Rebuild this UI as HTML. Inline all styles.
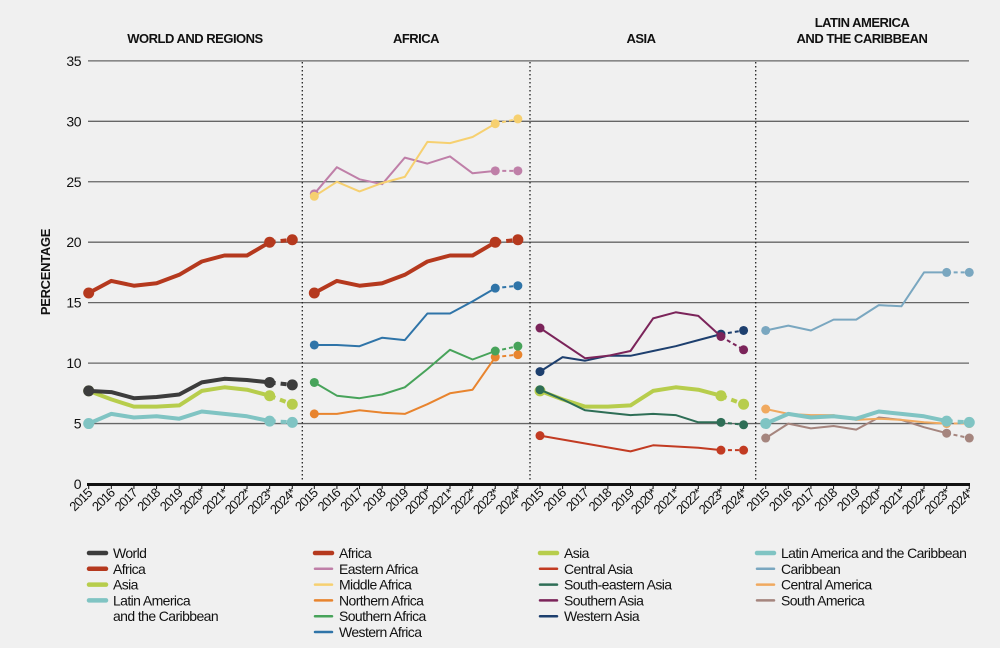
<!DOCTYPE html>
<html><head><meta charset="utf-8"><style>
html,body{margin:0;padding:0;background:#f0f0f0;}
svg{display:block;font-family:"Liberation Sans",sans-serif;}
</style></head><body>
<svg id="chart" width="1000" height="648" viewBox="0 0 1000 648">
<rect width="1000" height="648" fill="#f0f0f0"/>
<g id="titles" font-weight="bold" font-size="13" fill="#111" text-anchor="middle" letter-spacing="-0.5">
<text x="195" y="43">WORLD AND REGIONS</text>
<text x="416" y="43">AFRICA</text>
<text x="641" y="43">ASIA</text>
<text x="862" y="27">LATIN AMERICA</text>
<text x="862" y="43">AND THE CARIBBEAN</text>
</g>
<text transform="translate(50,272) rotate(-90)" text-anchor="middle" font-weight="bold" font-size="13" letter-spacing="-0.3" fill="#111">PERCENTAGE</text>
<g id="grid"></g>
<g id="series"></g>
<g id="legend"></g>
</svg>
<script>
const years = ["2015","2016","2017","2018","2019","2020*","2021*","2022*","2023*","2024*"];
const yTicks = [0,5,10,15,20,25,30,35];
const worldVals = [7.7,7.6,7.1,7.2,7.4,8.4,8.7,8.6,8.4,8.2];
const africaVals = [15.8,16.8,16.4,16.6,17.3,18.4,18.9,18.9,20.0,20.2];
const asiaVals = [7.7,7.0,6.4,6.4,6.5,7.7,8.0,7.8,7.3,6.6];
const lacVals = [5.0,5.8,5.5,5.6,5.4,6.0,5.8,5.6,5.2,5.1];
const easternAfricaVals = [24.0,26.2,25.2,24.8,27.0,26.5,27.1,25.7,25.9,25.9];
const middleAfricaVals = [23.8,25.0,24.2,24.9,25.4,28.3,28.2,28.7,29.8,30.2];
const northernAfricaVals = [5.8,5.8,6.1,5.9,5.8,6.6,7.5,7.8,10.5,10.7];
const southernAfricaVals = [8.4,7.3,7.1,7.4,8.0,9.5,11.1,10.3,11.0,11.4];
const westernAfricaVals = [11.5,11.5,11.4,12.1,11.9,14.1,14.1,15.1,16.2,16.4];
const centralAsiaVals = [4.0,null,null,null,2.7,3.2,3.1,3.0,2.8,2.8];
const seAsiaVals = [7.8,7.0,6.1,5.9,5.7,5.8,5.7,5.1,5.1,4.9];
const southernAsiaVals = [12.9,null,10.4,10.6,11.0,13.7,14.2,13.9,12.2,11.1];
const westernAsiaVals = [9.3,10.5,10.2,10.6,10.6,11.0,11.4,11.9,12.4,12.7];
const caribbeanVals = [12.7,13.1,12.7,13.6,13.6,14.8,14.7,17.5,17.5,17.5];
const centralAmericaVals = [6.2,5.8,5.7,5.7,5.3,5.4,5.3,5.1,5.0,5.0];
const southAmericaVals = [3.8,5.0,4.6,4.8,4.5,5.5,5.3,4.7,4.2,3.8];

const NS = "http://www.w3.org/2000/svg";
const panelStart = [88.7, 314.3, 540, 765.7];
const step = 22.62;
function xPos(p, i){ return panelStart[p] + i*step; }
function yPos(v){ return 484 - v*12.09; }
function mk(tag, attrs, parent){
  const e = document.createElementNS(NS, tag);
  for (const k in attrs) e.setAttribute(k, attrs[k]);
  parent.appendChild(e); return e;
}
const grid = document.getElementById('grid');
yTicks.forEach(t => {
  if (t > 0) {
    const l = mk('line', {x1:88, x2:969, y1:yPos(t), y2:yPos(t), stroke:'#666', 'stroke-width':1.3}, grid);
    
    
  }
  const tx = mk('text', {x:81, y:yPos(t)+5, 'text-anchor':'end', 'font-size':14, fill:'#111', 'letter-spacing':'-0.5'}, grid);
  tx.textContent = t;
  
  
});
[302.3, 530, 755.7].forEach((x, k) => {
  const d = mk('line', {x1:x, x2:x, y1:62, y2:482, stroke:'#222', 'stroke-width':1.3, 'stroke-dasharray':'1.5,2.5'}, grid);
  
  
});
const ax = mk('line', {x1:87, x2:970, y1:484.5, y2:484.5, stroke:'#111', 'stroke-width':3}, grid);


for (let p = 0; p < 4; p++) {
  years.forEach((yr, i) => {
    const x = xPos(p, i);
    mk('line', {x1:x, x2:x, y1:485, y2:489, stroke:'#111', 'stroke-width':1}, grid);
    const t = mk('text', {transform:`translate(${x+4},${494}) rotate(-45)`, 'text-anchor':'end', 'font-size':13, fill:'#111', 'letter-spacing':'-0.9'}, grid);
    t.textContent = yr;
    
    
  });
}

const seriesG = document.getElementById('series');
function drawSeries(p, vals, color, thick, name){
  const g = mk('g', {}, seriesG);
  
  
  const w = thick ? 4 : 2;
  const pts = [];
  for (let i = 0; i <= 8; i++) if (vals[i] !== null) pts.push(xPos(p,i).toFixed(1) + ',' + yPos(vals[i]).toFixed(1));
  mk('polyline', {points:pts.join(' '), fill:'none', stroke:color, 'stroke-width':w, 'stroke-linejoin':'round'}, g);
  mk('line', {x1:xPos(p,8), y1:yPos(vals[8]), x2:xPos(p,9), y2:yPos(vals[9]), stroke:color, 'stroke-width':w, 'stroke-dasharray': thick ? '6,5' : '4,3'}, g);
  const r = thick ? 5.5 : 4.5;
  [0,8,9].forEach(i => {
    const c = mk('circle', {cx:xPos(p,i), cy:yPos(vals[i]), r:r, fill:color}, g);
    
    
  });
}
const C = {world:'#3c3c3c', africa:'#b5391e', asia:'#b7cd4c', lac:'#80c4c3', eaf:'#bf7fa8', maf:'#f6d070', naf:'#e8842e', saf:'#47a35a', waf:'#2f74a8', cas:'#c23b22', sea:'#2e6e56', sas:'#7b245a', was:'#1d3f6e', car:'#7aa7c0', cam:'#f0a95f', sam:'#a5857e'};
drawSeries(0, lacVals, C.lac, true, 'world-lac-line');
drawSeries(0, asiaVals, C.asia, true, 'world-asia-line');
drawSeries(0, africaVals, C.africa, true, 'world-africa-line');
drawSeries(0, worldVals, C.world, true, 'world-line');
drawSeries(1, northernAfricaVals, C.naf, false, 'northern-africa-line');
drawSeries(1, southernAfricaVals, C.saf, false, 'southern-africa-line');
drawSeries(1, westernAfricaVals, C.waf, false, 'western-africa-line');
drawSeries(1, easternAfricaVals, C.eaf, false, 'eastern-africa-line');
drawSeries(1, middleAfricaVals, C.maf, false, 'middle-africa-line');
drawSeries(1, africaVals, C.africa, true, 'africa-line');
drawSeries(2, asiaVals, C.asia, true, 'asia-line');
drawSeries(2, seAsiaVals, C.sea, false, 'south-eastern-asia-line');
drawSeries(2, centralAsiaVals, C.cas, false, 'central-asia-line');
drawSeries(2, westernAsiaVals, C.was, false, 'western-asia-line');
drawSeries(2, southernAsiaVals, C.sas, false, 'southern-asia-line');
drawSeries(3, southAmericaVals, C.sam, false, 'south-america-line');
drawSeries(3, centralAmericaVals, C.cam, false, 'central-america-line');
drawSeries(3, caribbeanVals, C.car, false, 'caribbean-line');
drawSeries(3, lacVals, C.lac, true, 'lac-line');

const legend = document.getElementById('legend');
const legendCols = [
  {x:87, items:[['World',C.world,1],['Africa',C.africa,1],['Asia',C.asia,1],['Latin America|and the Caribbean',C.lac,1]]},
  {x:313, items:[['Africa',C.africa,1],['Eastern Africa',C.eaf,0],['Middle Africa',C.maf,0],['Northern Africa',C.naf,0],['Southern Africa',C.saf,0],['Western Africa',C.waf,0]]},
  {x:538, items:[['Asia',C.asia,1],['Central Asia',C.cas,0],['South-eastern Asia',C.sea,0],['Southern Asia',C.sas,0],['Western Asia',C.was,0]]},
  {x:755, items:[['Latin America and the Caribbean',C.lac,1],['Caribbean',C.car,0],['Central America',C.cam,0],['South America',C.sam,0]]}
];
legendCols.forEach(col => {
  col.items.forEach((it, i) => {
    const y = 553 + i*15.8;
    const g = mk('g', {}, legend);
    
    
    mk('line', {x1:col.x+2, x2:col.x+19, y1:y, y2:y, stroke:it[1], 'stroke-width': it[2] ? 4.5 : 2.5, 'stroke-linecap':'round'}, g);
    const lines = it[0].split('|');
    lines.forEach((ln, k) => {
      const t = mk('text', {x:col.x+26, y:y+5 + k*15.8, 'font-size':14, fill:'#111', 'letter-spacing':'-0.6'}, g);
      t.textContent = ln;
    });
  });
});
</script>
</body></html>
